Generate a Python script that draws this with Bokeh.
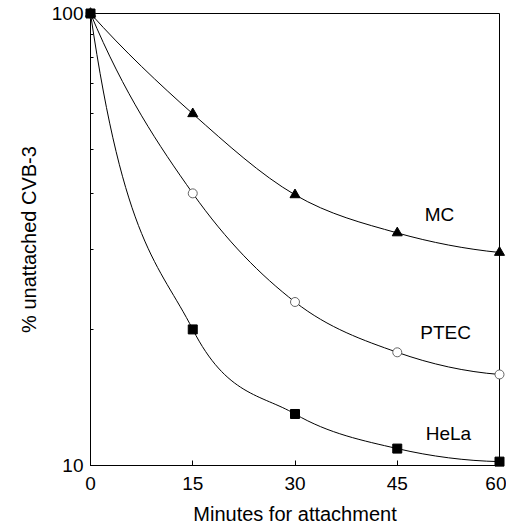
import numpy as np
from bokeh.plotting import figure
from bokeh.models import FixedTicker, ColumnDataSource, BasicTickFormatter
from bokeh.embed import file_html
from bokeh.resources import INLINE
from bokeh.core.properties import value

# ---- data ----
minutes = [0, 15, 30, 45, 60]
mc = [100, 60, 39.7, 32.7, 29.6]
ptec = [100, 40, 23.0, 17.8, 15.9]
hela = [100, 20, 13.0, 10.9, 10.2]

series_names = ["MC", "PTEC", "HeLa"]
label_x = [51.2, 52.1, 52.5]
label_y = [36.0, 19.7, 11.8]

x_ticks = [0, 15, 30, 45, 60]
y_ticks = [10, 100]
y_minor = [20, 30, 40, 50, 60, 70, 80, 90]

FONT = "Liberation Sans"


def smooth_segments(x, y):
    """Cubic Hermite (as Bezier) through points, in log10(y) space."""
    lx = np.asarray(x, float)
    ly = np.log10(np.asarray(y, float))
    dx = np.diff(lx)
    s = np.diff(ly) / dx
    m = np.empty(len(lx))
    m[1:-1] = (s[:-1] + s[1:]) / 2.0
    m[0] = s[0] * (s[0] / s[1]) ** 0.6
    m[-1] = 2 * s[-1] - m[-2]
    return dict(
        x0=lx[:-1], y0=10 ** ly[:-1],
        x1=lx[1:], y1=10 ** ly[1:],
        cx0=lx[:-1] + dx / 3, cy0=10 ** (ly[:-1] + m[:-1] * dx / 3),
        cx1=lx[1:] - dx / 3, cy1=10 ** (ly[1:] - m[1:] * dx / 3),
    )


p = figure(width=506, height=527, y_axis_type="log",
           x_range=(0, 60), y_range=(10, 100),
           output_backend="svg", toolbar_location=None,
           min_border_left=90, min_border_right=7,
           min_border_top=13, min_border_bottom=61)

p.background_fill_color = "white"
p.border_fill_color = "white"
p.outline_line_color = "black"
p.outline_line_width = 1
p.xgrid.visible = False
p.ygrid.visible = False

for ys in (mc, ptec, hela):
    p.bezier(source=ColumnDataSource(smooth_segments(minutes, ys)),
             x0="x0", y0="y0", x1="x1", y1="y1",
             cx0="cx0", cy0="cy0", cx1="cx1", cy1="cy1",
             line_color="black", line_width=1)

p.scatter(minutes, mc, marker="triangle", size=10,
          fill_color="black", line_color="black", level="overlay")
p.scatter(minutes, ptec, marker="circle", size=9,
          fill_color="white", line_color="#555555", line_width=0.9, level="overlay")
p.scatter(minutes, hela, marker="square", size=9,
          fill_color="black", line_color="black", level="overlay")

p.text(x=label_x, y=label_y, text=series_names,
       text_font=value(FONT), text_font_size="19px",
       text_align="center", text_baseline="middle", text_color="black")

# axes
p.xaxis.ticker = FixedTicker(ticks=x_ticks)
p.yaxis.ticker = FixedTicker(ticks=y_ticks, minor_ticks=y_minor)
p.yaxis.formatter = BasicTickFormatter()

for ax in (p.xaxis[0], p.yaxis[0]):
    ax.axis_line_color = "black"
    ax.axis_line_width = 1
    ax.major_tick_line_color = "black"
    ax.minor_tick_line_color = "black"
    ax.major_tick_in = 5
    ax.major_tick_out = 0
    ax.minor_tick_in = 3
    ax.minor_tick_out = 0
    ax.major_label_text_font = FONT
    ax.major_label_text_font_size = "19px"
    ax.major_label_text_color = "black"
    ax.axis_label_text_font = FONT
    ax.axis_label_text_font_size = "20px"
    ax.axis_label_text_font_style = "normal"
    ax.axis_label_text_color = "black"

p.xaxis.axis_label = "Minutes for attachment"
p.yaxis.axis_label = "% unattached CVB-3"
p.xaxis.major_label_standoff = 11
p.xaxis.axis_label_standoff = 10
p.yaxis.major_label_standoff = 7
p.yaxis.axis_label_standoff = 9

open("out.html", "w").write(file_html(p, INLINE))
